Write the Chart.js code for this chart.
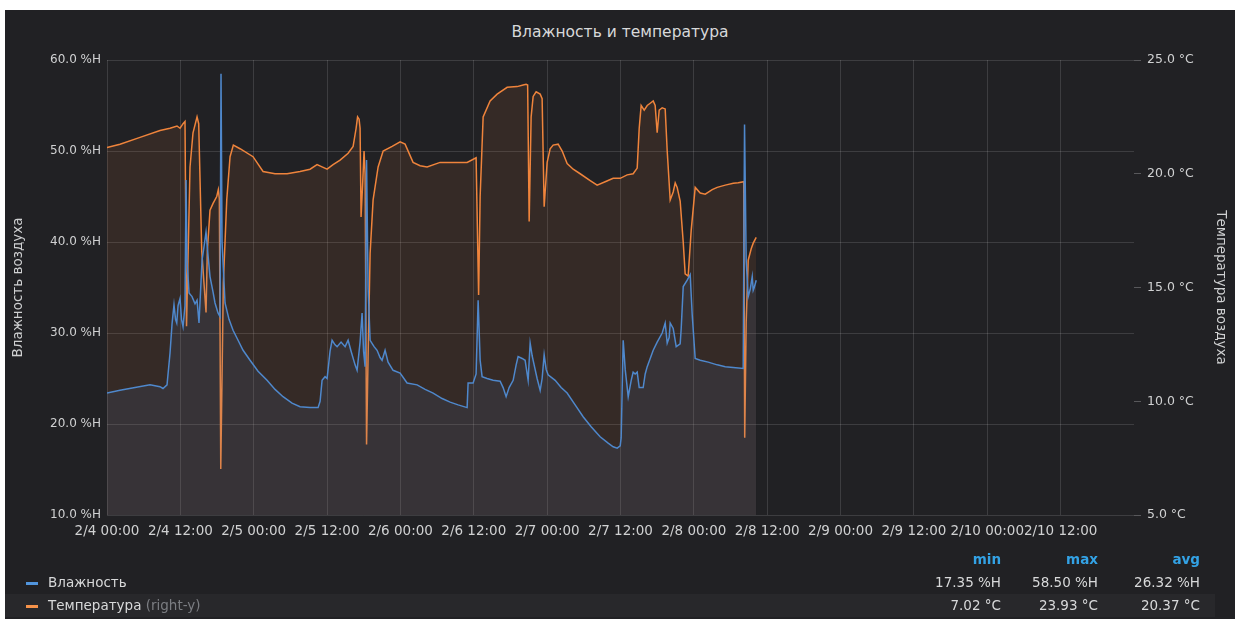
<!DOCTYPE html>
<html>
<head>
<meta charset="utf-8">
<script src="https://cdn.jsdelivr.net/npm/chart.js@4.4.1/dist/chart.umd.min.js"></script>
<style>
  body { margin: 0; background: #ffffff; font-family: "DejaVu Sans", sans-serif; }
  .panel { position: absolute; left: 5px; top: 10px; width: 1230px; height: 609px; background: #212124; overflow: hidden; }
  .title { position: absolute; left: 0; width: 100%; top: 13px; text-align: center; color: #d8d9da; font-size: 15.5px; }
  .chart-wrap { position: absolute; left: 0; top: 0; width: 1230px; height: 545px; }
  .legend { position: absolute; left: 0; top: 538px; width: 1210px; color: #d8d9da; font-size: 13.5px; }
  .lrow { position: relative; height: 23px; line-height: 23px; }
  .lrow.alt { background: #28282b; }
  .lrow .name { position: absolute; left: 43px; }
  .lrow .dash { position: absolute; left: 21px; top: 11px; width: 12px; height: 3px; }
  .lrow .v { position: absolute; text-align: right; width: 100px; }
  .hdr { color: #33a2e5; font-weight: bold; }
  .muted { color: #7b7d82; }
</style>
</head>
<body>
<div class="panel">
  <div class="title">Влажность и температура</div>
  <div class="chart-wrap"><canvas id="chart"></canvas></div>
  <div class="legend" id="legend"></div>
</div>
<script>
// hours since 2/4 00:00
const humTimes = [0, 2.13, 4.58, 7.04, 8.67, 9.16, 9.82, 10.31, 10.64, 10.96, 11.21, 11.41, 11.62, 11.95, 12.19, 12.44, 12.76, 12.93, 13.09, 13.42,
  13.91, 14.4, 14.73, 15.05, 15.55, 15.87, 16.2, 16.53, 16.85, 17.35, 17.67, 18.16, 18.49, 18.65, 18.82, 19.31, 19.96, 20.62, 21.44, 22.26,
  23.4, 24.71, 26.18, 27.49, 28.8, 30.27, 31.58, 33.22, 34.53, 34.86, 35.18, 35.67, 36.0, 36.49, 36.82, 37.31, 37.64, 38.29, 38.95, 39.44,
  39.93, 40.58, 40.91, 41.4, 41.73, 41.97, 42.22, 42.46, 42.71, 43.04, 43.69, 44.18, 44.67, 45.0, 45.49, 45.98, 46.8, 47.95, 49.09, 50.73,
  52.04, 53.35, 54.82, 56.13, 57.44, 58.91, 59.07, 59.89, 60.38, 60.71, 61.04, 61.36, 62.18, 63.16, 64.31, 64.8, 65.29, 65.78, 66.44, 66.93,
  67.25, 67.91, 68.4, 68.73, 68.89, 69.22, 69.55, 69.71, 70.36, 70.86, 71.18, 71.51, 71.84, 72.16, 73.31, 74.29, 75.27, 76.58, 77.89, 79.2,
  80.67, 81.98, 82.8, 83.46, 83.95, 84.11, 84.44, 84.77, 85.26, 85.75, 86.07, 86.4, 86.73, 87.06, 87.71, 88.04, 88.37, 88.86, 89.35, 90.0,
  90.82, 91.31, 91.64, 91.96, 92.13, 92.62, 93.11, 93.76, 93.93, 94.26, 94.91, 95.4, 95.73, 96.22, 97.04, 98.35, 99.82, 101.13, 102.44, 104.07,
  104.29, 104.56, 104.89, 105.22, 105.55, 105.71, 105.88, 106.2];
const humValues = [23.4, 23.7, 24.0, 24.3, 24.1, 23.9, 24.3, 27.8, 31.0, 33.1, 31.5, 31.1, 33.0, 33.8, 31.5, 30.7, 33.0, 46.8, 38.0, 34.4,
  34.0, 33.2, 33.6, 31.1, 38.0, 39.5, 41.1, 38.5, 36.2, 34.5, 33.3, 32.2, 31.8, 58.5, 40.0, 33.3, 31.5, 30.3, 29.2, 28.1,
  27.0, 25.8, 24.8, 23.8, 23.0, 22.3, 21.9, 21.8, 21.8, 22.5, 24.8, 25.2, 25.0, 28.0, 29.2, 28.7, 28.5, 29.0, 28.5, 29.2,
  28.0, 26.5, 25.9, 29.0, 32.2, 28.0, 26.3, 49.0, 35.0, 29.2, 28.5, 28.1, 27.3, 27.0, 28.1, 26.8, 25.9, 25.6, 24.5, 24.3,
  23.8, 23.4, 22.8, 22.4, 22.1, 21.8, 24.5, 24.5, 25.5, 33.6, 27.0, 25.2, 25.0, 24.8, 24.7, 24.0, 23.0, 24.0, 24.8, 26.5,
  27.4, 27.2, 27.0, 25.5, 24.8, 28.9, 27.5, 27.0, 25.0, 23.7, 25.0, 27.6, 26.0, 25.4, 24.8, 24.0, 23.4, 22.1, 20.8, 19.7,
  18.6, 17.9, 17.5, 17.35, 17.6, 18.5, 29.2, 26.0, 23.0, 24.8, 25.7, 25.5, 25.7, 24.0, 24.0, 25.5, 26.3, 27.2, 28.1, 29.0,
  30.0, 31.1, 28.9, 29.5, 31.1, 30.5, 28.5, 28.8, 30.5, 35.1, 35.8, 36.4, 32.0, 27.2, 27.0, 26.8, 26.5, 26.3, 26.2, 26.1,
  52.9, 38.0, 34.0, 34.8, 36.2, 34.7, 35.0, 35.8];

const tempTimes = [0, 2.13, 5.4, 8.67, 10.31, 11.45, 11.95, 12.44, 12.76, 12.85, 13.01, 13.58, 14.07, 14.73, 15.0, 15.5, 16.2, 16.41, 16.85, 17.35,
  17.95, 18.21, 18.38, 18.61, 19.03, 19.59, 20.13, 20.67, 21.76, 23.89, 25.53, 27.49, 29.46, 31.58, 33.22, 34.36, 35.18, 36.0, 36.98, 38.13,
  39.44, 40.26, 40.75, 40.99, 41.24, 41.4, 41.56, 41.81, 42.05, 42.22, 42.46, 42.71, 43.04, 43.53, 44.35, 45.17, 46.64, 47.95, 48.76, 50.07,
  51.22, 52.36, 54.49, 56.13, 58.91, 60.38, 60.63, 60.79, 61.04, 61.53, 62.67, 63.82, 65.46, 67.09, 68.07, 68.56, 68.81, 69.06, 69.38, 69.71,
  70.2, 70.86, 71.18, 71.51, 72.0, 72.49, 72.98, 73.8, 74.46, 75.27, 76.26, 77.4, 79.04, 80.18, 81.49, 82.8, 83.95, 85.09, 86.07, 86.73,
  87.06, 87.38, 87.88, 88.37, 88.86, 89.35, 89.67, 90.0, 90.33, 90.82, 91.31, 91.64, 92.13, 92.62, 92.95, 93.27, 93.76, 94.26, 94.58, 95.07,
  95.56, 96.22, 97.04, 97.86, 99.0, 99.82, 101.13, 102.44, 103.26, 104.16, 104.32, 104.56, 104.89, 105.38, 105.71, 106.2];
const tempValues = [21.15, 21.3, 21.6, 21.9, 22.0, 22.1, 22.0, 22.2, 22.3, 22.3, 13.3, 20.3, 21.8, 22.5, 22.2, 16.6, 13.9, 16.6, 18.4, 18.7,
  19.0, 19.3, 18.9, 7.02, 15.2, 18.85, 20.75, 21.26, 21.1, 20.75, 20.1, 20.0, 20.0, 20.1, 20.2, 20.4, 20.3, 20.2, 20.4, 20.6,
  20.9, 21.2, 22.0, 22.5, 22.4, 22.0, 18.1, 19.5, 21.0, 20.0, 8.1, 12.0, 16.5, 18.85, 20.3, 21.0, 21.2, 21.4, 21.3, 20.5,
  20.35, 20.3, 20.5, 20.5, 20.5, 20.7, 17.0, 14.67, 19.0, 22.5, 23.2, 23.5, 23.8, 23.83, 23.9, 23.93, 23.9, 17.9, 22.5, 23.4,
  23.6, 23.5, 23.3, 18.55, 20.5, 21.1, 21.26, 21.3, 21.0, 20.45, 20.2, 20.0, 19.7, 19.5, 19.65, 19.8, 19.8, 19.95, 20.0, 20.25,
  22.0, 23.0, 22.8, 23.0, 23.1, 23.2, 23.0, 21.8, 22.8, 22.9, 22.85, 21.0, 18.85, 19.2, 19.6, 19.4, 18.8, 17.0, 15.6, 15.5,
  17.5, 19.4, 19.15, 19.1, 19.3, 19.4, 19.5, 19.58, 19.6, 19.65, 8.4, 13.5, 16.2, 16.7, 16.95, 17.2];

const seriesNames = ['Влажность', 'Температура'];
const statHeaders = ['min', 'max', 'avg'];
const humStats = ['17.35 %H', '58.50 %H', '26.32 %H'];
const tempStats = ['7.02 °C', '23.93 °C', '20.37 °C'];

const humColor = '#4f88cc';
const tempColor = '#ef843c';
const gridColor = 'rgba(255,255,255,0.13)';
const textColor = '#d0d1d2';
const FONT = '"DejaVu Sans", sans-serif';

function pts(times, vals) {
    return times.map((t, i) => ({ x: t, y: vals[i] }));
}

function fmtTime(h) {
    const day = 4 + Math.floor(h / 24);
    const hr = Math.round(h % 24);
    return `2/${day} ${String(hr).padStart(2, '0')}:00`;
}

const ctx = document.getElementById('chart').getContext('2d');
new Chart(ctx, {
    type: 'line',
    data: {
        datasets: [{
            label: seriesNames[0],
            data: pts(humTimes, humValues),
            yAxisID: 'yHum',
            borderColor: humColor,
            backgroundColor: 'rgba(79,136,204,0.10)',
            borderWidth: 1.5,
            fill: 'start',
            tension: 0,
            pointRadius: 0
        }, {
            label: seriesNames[1],
            data: pts(tempTimes, tempValues),
            yAxisID: 'yTemp',
            borderColor: tempColor,
            backgroundColor: 'rgba(239,132,60,0.10)',
            borderWidth: 1.5,
            fill: 'start',
            tension: 0,
            pointRadius: 0
        }]
    },
    options: {
        responsive: true,
        maintainAspectRatio: false,
        animation: false,
        layout: { padding: { top: 50, left: 0, right: 0, bottom: 0 } },
        plugins: { legend: { display: false }, tooltip: { enabled: false } },
        scales: {
            x: {
                type: 'linear',
                min: 0,
                max: 168,
                border: { display: false },
                grid: { color: gridColor, drawTicks: false },
                afterFit: s => { s.height = 40; },
                ticks: {
                    stepSize: 12,
                    autoSkip: false,
                    maxRotation: 0,
                    padding: 8,
                    color: textColor,
                    font: { family: FONT, size: 13.5 },
                    callback: v => (v >= 168 ? null : fmtTime(v))
                }
            },
            yHum: {
                position: 'left',
                min: 10,
                max: 60,
                border: { display: false },
                grid: { color: gridColor, drawTicks: false },
                afterFit: s => { s.width = 102; },
                title: {
                    display: true,
                    text: 'Влажность воздуха',
                    color: textColor,
                    font: { family: FONT, size: 13.5 },
                    padding: { top: 5, bottom: 5 }
                },
                ticks: {
                    stepSize: 10,
                    padding: 6,
                    color: textColor,
                    font: { family: FONT, size: 12 },
                    callback: v => v.toFixed(1) + ' %H'
                }
            },
            yTemp: {
                position: 'right',
                min: 5,
                max: 25,
                border: { display: false },
                grid: { drawOnChartArea: false, color: 'rgba(255,255,255,0.25)', tickLength: 7 },
                afterFit: s => { s.width = 101; },
                title: {
                    display: true,
                    text: 'Температура воздуха',
                    color: textColor,
                    font: { family: FONT, size: 13.5 },
                    padding: { top: 6, bottom: 6 }
                },
                ticks: {
                    stepSize: 5,
                    padding: 6,
                    color: textColor,
                    font: { family: FONT, size: 12.5 },
                    callback: v => v.toFixed(1) + ' °C'
                }
            }
        }
    }
});

// legend table
const legend = document.getElementById('legend');
const colRight = [1001, 1098, 1200];
function row(cls, nameHtml, dashColor, vals, valCls) {
    const r = document.createElement('div');
    r.className = 'lrow ' + cls;
    let html = '';
    if (dashColor) html += `<div class="dash" style="background:${dashColor}"></div>`;
    if (nameHtml) html += `<div class="name">${nameHtml}</div>`;
    vals.forEach((v, i) => {
        html += `<div class="v ${valCls}" style="left:${colRight[i] - 5 - 100}px">${v}</div>`;
    });
    r.innerHTML = html;
    legend.appendChild(r);
}
row('', '', null, statHeaders, 'hdr');
row('', seriesNames[0], '#5195dd', humStats, '');
row('alt', seriesNames[1] + ' <span class="muted">(right-y)</span>', '#f5924a', tempStats, '');
</script>
</body>
</html>
